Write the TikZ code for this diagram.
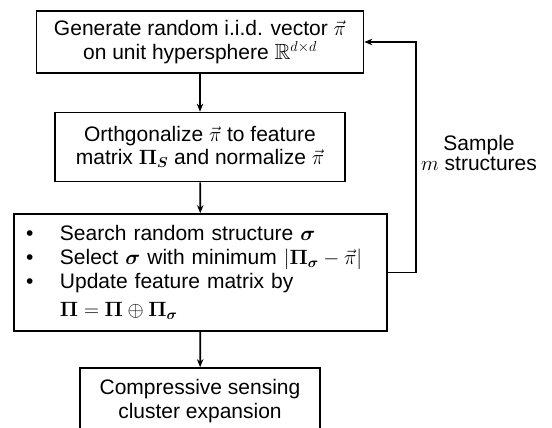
\documentclass[tikz,border=0pt]{standalone}
\usepackage{amsmath,amssymb,bm}
\usepackage[no-math]{fontspec}
\setmainfont{Liberation Sans}
\usetikzlibrary{arrows.meta}
\newcommand{\mymath}[1]{{\fontsize{22}{22}\selectfont$#1$}}
\begin{document}
\begin{tikzpicture}[x=1pt,y=-1pt,
  box/.style={draw,line width=1.7pt,align=center,inner sep=0pt,font=\fontsize{21}{23.5}\selectfont},
  lbl/.style={align=center,inner sep=0pt,font=\fontsize{21}{20}\selectfont},
  flow/.style={line width=1.7pt,-{Stealth[length=8pt,width=6.5pt]}}]
\useasboundingbox (0,0) rectangle (552,428);
\node[box,minimum width=327pt,minimum height=62pt] (b1) at (200,42)
  {Generate random i.i.d. vector \mymath{\vec{\pi}}\\on unit hypersphere \mymath{\mathbb{R}^{d\times d}}};
\node[box,minimum width=290pt,minimum height=69pt] (b2) at (200,147)
  {Orthgonalize \mymath{\vec{\pi}} to feature\\matrix \mymath{\mathbf{\Pi}_{\bm{S}}} and normalize \mymath{\vec{\pi}}};
\node[box,minimum width=373pt,minimum height=117pt,text width=349pt,align=left,font=\fontsize{21}{24}\selectfont] (b3) at (200.5,272.5)
  {\makebox[34pt][l]{\textbullet}Search random structure \mymath{\bm{\sigma}}\\
   \makebox[34pt][l]{\textbullet}Select \mymath{\bm{\sigma}} with minimum \mymath{|\mathbf{\Pi}_{\bm{\sigma}}-\vec{\pi}|}\\
   \makebox[34pt][l]{\textbullet}Update feature matrix by\\[4pt]
   \hspace*{34pt}\mymath{\mathbf{\Pi}=\mathbf{\Pi}\oplus\mathbf{\Pi}_{\bm{\sigma}}}};
\node[box,minimum width=240pt,minimum height=66pt] (b4) at (200,401)
  {Compressive sensing\\cluster expansion};
\node[lbl] (lab) at (479,153) {Sample\\\mymath{m} structures};
\draw[flow] (b1) -- (b2);
\draw[flow] (b2) -- (b3);
\draw[flow] (b3) -- (b4);
\draw[flow] (b3.east) -- ++(28,0) |- (b1.east);
\end{tikzpicture}
\end{document}
